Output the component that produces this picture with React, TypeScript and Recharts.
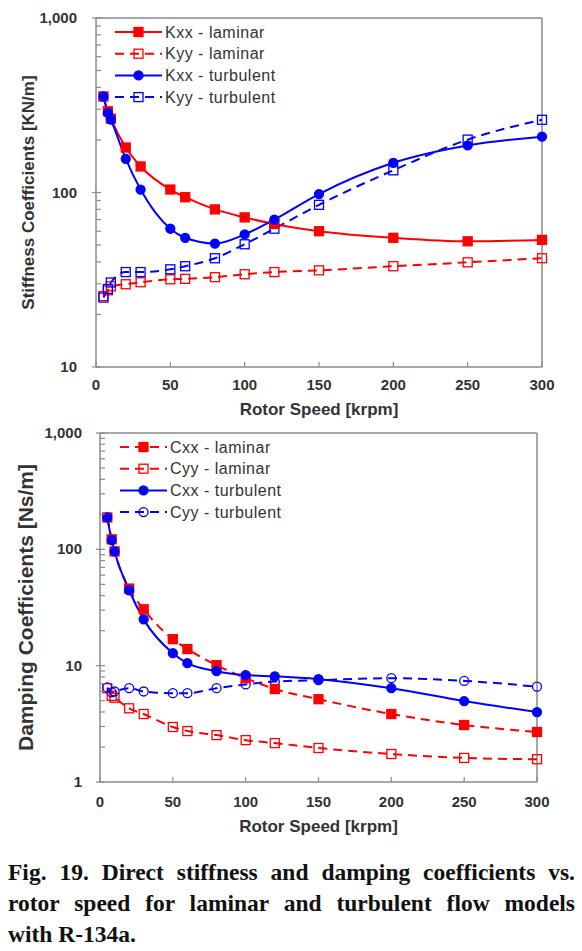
import { Legend, Line, LineChart, ReferenceLine, XAxis, YAxis } from 'recharts'

// rotor speed [krpm]
const speeds = [5, 8, 10, 20, 30, 50, 60, 80, 100, 120, 150, 200, 250, 300]

// stiffness [KN/m]
const kxxLaminar = [355, 292, 265, 181, 141, 104, 94, 80, 72, 66, 60, 55, 52.5, 53.5]
const kyyLaminar = [25.5, 27.5, 29, 29.8, 30.6, 31.8, 32, 32.7, 34, 35, 35.8, 37.8, 39.8, 42]
const kxxTurbulent = [355, 286, 262, 156, 104, 62, 55, 51, 57.5, 70, 98, 148, 186, 209]
const kyyTurbulent = [25, 28, 30.5, 35, 35, 36.3, 37.8, 42, 50.5, 62, 85, 134, 201, 261]

// damping [Ns/m]
const cxxLaminar = [188, 122, 96, 46, 30.5, 16.9, 13.9, 10.1, 7.8, 6.3, 5.15, 3.84, 3.09, 2.69]
const cyyLaminar = [6.4, 5.5, 5.3, 4.3, 3.84, 2.97, 2.74, 2.53, 2.29, 2.16, 1.96, 1.74, 1.61, 1.57]
const cxxTurbulent = [188, 120, 96, 44.5, 25, 12.8, 10.5, 8.97, 8.3, 8.1, 7.66, 6.4, 4.96, 3.99]
const cyyTurbulent = [6.5, 5.9, 6.0, 6.4, 6.0, 5.8, 5.8, 6.4, 6.9, 7.3, 7.5, 7.8, 7.4, 6.6]

const xTicks = [0, 50, 100, 150, 200, 250, 300]
const stiffTicks = [10, 20, 30, 40, 50, 60, 70, 80, 90, 100, 200, 300, 400, 500, 600, 700, 800, 900, 1000]
const dampTicks = [1, 2, 3, 4, 5, 6, 7, 8, 9, ...stiffTicks]

const stiffData = speeds.map((s, i) => ({
  speed: s,
  kxxLam: kxxLaminar[i],
  kyyLam: kyyLaminar[i],
  kxxTurb: kxxTurbulent[i],
  kyyTurb: kyyTurbulent[i],
}))

const dampData = speeds.map((s, i) => ({
  speed: s,
  cxxLam: cxxLaminar[i],
  cyyLam: cyyLaminar[i],
  cxxTurb: cxxTurbulent[i],
  cyyTurb: cyyTurbulent[i],
}))

const RED = '#ff0000'
const BLUE = '#0000ff'
const AXIS = '#8a8a8a'
const TEXT = '#333333'
const DASH = '9 6'
const FONT = '"Liberation Sans", Arial, sans-serif'

type MarkerKind = 'square' | 'openSquare' | 'circle' | 'openCircle'

function marker(kind: MarkerKind, cx: number, cy: number, color: string, key?: any) {
  if (kind === 'square' || kind === 'openSquare') {
    const open = kind === 'openSquare'
    return (
      <rect
        key={key}
        x={cx - 4.5}
        y={cy - 4.5}
        width={9}
        height={9}
        fill={open ? 'none' : color}
        stroke={color}
        strokeWidth={1.3}
      />
    )
  }
  const open = kind === 'openCircle'
  return (
    <circle key={key} cx={cx} cy={cy} r={4.5} fill={open ? 'none' : color} stroke={color} strokeWidth={1.3} />
  )
}

const dot = (kind: MarkerKind, color: string) => (props: any) =>
  marker(kind, props.cx, props.cy, color, props.key ?? `${props.index}`)

const isDecade = (v: number) => Math.abs(Math.log10(v) - Math.round(Math.log10(v))) < 1e-6

const YTick = (labelGap: number) => (props: any) => {
  const { x, y, payload } = props
  const v = payload.value
  const major = isDecade(v)
  return (
    <g>
      <line x1={major ? x - 4 : x} x2={x + 5} y1={y} y2={y} stroke={AXIS} strokeWidth={1.2} />
      {major && (
        <text x={x - labelGap} y={y} dy={5} textAnchor="end" fontSize={15} fontWeight="bold" fill={TEXT} fontFamily={FONT}>
          {v.toLocaleString('en-US')}
        </text>
      )}
    </g>
  )
}

const XTick = (labelGap: number) => (props: any) => {
  const { x, y, payload } = props
  return (
    <g>
      <line x1={x} x2={x} y1={y} y2={y - 5} stroke={AXIS} strokeWidth={1.2} />
      <text x={x} y={y + labelGap} textAnchor="middle" fontSize={15} fontWeight="bold" fill={TEXT} fontFamily={FONT}>
        {payload.value}
      </text>
    </g>
  )
}

type LegendItem = { name: string; color: string; dash?: string; kind: MarkerKind }

const legendBox = (items: LegendItem[]) => () => (
  <svg width={200} height={92}>
    {items.map((it, i) => {
      const y = 10 + i * 21.7
      return (
        <g key={it.name}>
          <line x1={0} x2={47} y1={y} y2={y} stroke={it.color} strokeWidth={2} strokeDasharray={it.dash} />
          {marker(it.kind, 23.5, y, it.color)}
          <text x={50} y={y + 5.5} fontSize={16} letterSpacing={0.5} fill={TEXT} fontFamily={FONT}>
            {it.name}
          </text>
        </g>
      )
    })}
  </svg>
)

const stiffLegend: LegendItem[] = [
  { name: 'Kxx - laminar', color: RED, kind: 'square' },
  { name: 'Kyy - laminar', color: RED, dash: DASH, kind: 'openSquare' },
  { name: 'Kxx - turbulent', color: BLUE, kind: 'circle' },
  { name: 'Kyy - turbulent', color: BLUE, dash: DASH, kind: 'openSquare' },
]

const dampLegend: LegendItem[] = [
  { name: 'Cxx - laminar', color: RED, dash: DASH, kind: 'square' },
  { name: 'Cyy - laminar', color: RED, dash: DASH, kind: 'openSquare' },
  { name: 'Cxx - turbulent', color: BLUE, kind: 'circle' },
  { name: 'Cyy - turbulent', color: BLUE, dash: DASH, kind: 'openCircle' },
]

function StiffnessChart() {
  return (
    <LineChart width={582} height={420} data={stiffData} margin={{ top: 18, right: 40, bottom: 3, left: 36 }}>
      <XAxis
        dataKey="speed"
        type="number"
        domain={[0, 300]}
        ticks={xTicks}
        tickSize={0}
        tickMargin={0}
        tickLine={false}
        tick={XTick(23)}
        axisLine={{ stroke: AXIS, strokeWidth: 1.5 }}
        height={50}
        label={{
          value: 'Rotor Speed [krpm]',
          position: 'insideBottom',
          offset: 2,
          style: { fontSize: 17, fontWeight: 'bold', fill: TEXT, fontFamily: FONT },
        }}
      />
      <YAxis
        scale="log"
        domain={[10, 1000]}
        allowDataOverflow
        ticks={stiffTicks}
        interval={0}
        width={60}
        tickSize={0}
        tickMargin={0}
        tickLine={false}
        tick={YTick(19)}
        axisLine={{ stroke: AXIS, strokeWidth: 1.5 }}
        label={{
          value: 'Stiffness Coefficients [KN/m]',
          angle: -90,
          position: 'insideLeft',
          offset: -8,
          style: { textAnchor: 'middle', fontSize: 17, fontWeight: 'bold', fill: TEXT, fontFamily: FONT },
        }}
      />
      <ReferenceLine y={1000} stroke={AXIS} strokeWidth={1.5} />
      <ReferenceLine x={300} stroke={AXIS} strokeWidth={1.5} />
      <Legend
        layout="vertical"
        align="center"
        verticalAlign="middle"
        width={200}
        content={legendBox(stiffLegend)}
        wrapperStyle={{ left: 115, top: 22 }}
      />
      <Line type="monotone" dataKey="kyyLam" stroke={RED} strokeWidth={2} strokeDasharray={DASH} dot={dot('openSquare', RED)} isAnimationActive={false} />
      <Line type="monotone" dataKey="kyyTurb" stroke={BLUE} strokeWidth={2} strokeDasharray={DASH} dot={dot('openSquare', BLUE)} isAnimationActive={false} />
      <Line type="monotone" dataKey="kxxLam" stroke={RED} strokeWidth={2} dot={dot('square', RED)} isAnimationActive={false} />
      <Line type="monotone" dataKey="kxxTurb" stroke={BLUE} strokeWidth={2} dot={dot('circle', BLUE)} isAnimationActive={false} />
    </LineChart>
  )
}

function DampingChart() {
  return (
    <LineChart width={582} height={430} data={dampData} margin={{ top: 13, right: 45, bottom: 18, left: 36 }}>
      <XAxis
        dataKey="speed"
        type="number"
        domain={[0, 300]}
        ticks={xTicks}
        tickSize={0}
        tickMargin={0}
        tickLine={false}
        tick={XTick(25)}
        axisLine={{ stroke: AXIS, strokeWidth: 1.5 }}
        height={50}
        label={{
          value: 'Rotor Speed [krpm]',
          position: 'insideBottom',
          offset: 0,
          style: { fontSize: 17, fontWeight: 'bold', fill: TEXT, fontFamily: FONT },
        }}
      />
      <YAxis
        scale="log"
        domain={[1, 1000]}
        allowDataOverflow
        ticks={dampTicks}
        interval={0}
        width={64}
        tickSize={0}
        tickMargin={0}
        tickLine={false}
        tick={YTick(18)}
        axisLine={{ stroke: AXIS, strokeWidth: 1.5 }}
        label={{
          value: 'Damping Coefficients [Ns/m]',
          angle: -90,
          position: 'insideLeft',
          offset: -10,
          style: { textAnchor: 'middle', fontSize: 21, fontWeight: 'bold', fill: TEXT, fontFamily: FONT },
        }}
      />
      <ReferenceLine y={1000} stroke={AXIS} strokeWidth={1.5} />
      <ReferenceLine x={300} stroke={AXIS} strokeWidth={1.5} />
      <Legend
        layout="vertical"
        align="center"
        verticalAlign="middle"
        width={200}
        content={legendBox(dampLegend)}
        wrapperStyle={{ left: 120, top: 17 }}
      />
      <Line type="monotone" dataKey="cyyLam" stroke={RED} strokeWidth={2} strokeDasharray={DASH} dot={dot('openSquare', RED)} isAnimationActive={false} />
      <Line type="monotone" dataKey="cyyTurb" stroke={BLUE} strokeWidth={2} strokeDasharray={DASH} dot={dot('openCircle', BLUE)} isAnimationActive={false} />
      <Line type="monotone" dataKey="cxxLam" stroke={RED} strokeWidth={2} strokeDasharray={DASH} dot={dot('square', RED)} isAnimationActive={false} />
      <Line type="monotone" dataKey="cxxTurb" stroke={BLUE} strokeWidth={2} dot={dot('circle', BLUE)} isAnimationActive={false} />
    </LineChart>
  )
}

const captionLine = {
  fontFamily: '"Liberation Serif", "Times New Roman", serif',
  fontWeight: 'bold' as const,
  fontSize: 23.5,
  lineHeight: '31px',
  color: '#111',
}

export default function App() {
  return (
    <div style={{ position: 'absolute', left: 0, top: 0, width: 582, height: 951, background: '#fff' }}>
      <div style={{ position: 'absolute', left: 0, top: 0 }}>
        <StiffnessChart />
      </div>
      <div style={{ position: 'absolute', left: 0, top: 420 }}>
        <DampingChart />
      </div>
      <div style={{ position: 'absolute', left: 8, top: 857, width: 567 }}>
        <div style={{ ...captionLine, textAlign: 'justify', textAlignLast: 'justify' }}>
          Fig. 19. Direct stiffness and damping coefficients vs.
        </div>
        <div style={{ ...captionLine, textAlign: 'justify', textAlignLast: 'justify' }}>
          rotor speed for laminar and turbulent flow models
        </div>
        <div style={captionLine}>with R-134a.</div>
      </div>
    </div>
  )
}
